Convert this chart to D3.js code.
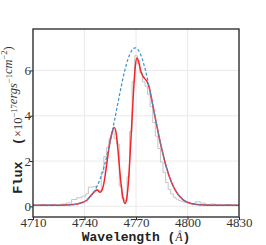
<!DOCTYPE html>
<html><head><meta charset="utf-8">
<script src="https://cdn.jsdelivr.net/npm/d3@7/dist/d3.min.js"></script>
<style>body{margin:0;background:#fff} svg{display:block}</style>
</head><body><div id="chart"></div>
<script>
// intrinsic emission (blue dashed)
const blueWave = [4710, 4725, 4733.5, 4737.5, 4741.5, 4743.5, 4745.5, 4747.5, 4749.5, 4751.5, 4753.5, 4755.5, 4757.5, 4759.5, 4761.5, 4763.5, 4765.5, 4767.5, 4769.5,
  4771.5, 4773.5, 4775.5, 4777.5, 4779.5, 4781.5, 4783.5, 4785.5, 4787.5, 4789.5, 4791.5, 4793.5, 4795.5, 4797.5, 4801.5, 4805.5, 4813, 4830];
const blueFlux = [0.05, 0.05, 0.08, 0.14, 0.29, 0.43, 0.64, 0.92, 1.30, 1.78, 2.37, 3.05, 3.80, 4.58, 5.33, 6.01, 6.54, 6.88, 7.00,
  6.88, 6.54, 6.01, 5.33, 4.58, 3.80, 3.05, 2.37, 1.78, 1.30, 0.92, 0.64, 0.43, 0.29, 0.14, 0.08, 0.05, 0.05];

// absorbed model (red)
const redWave = [4710, 4725, 4733.5, 4737.5, 4741.5, 4744, 4746, 4747.5, 4749, 4750, 4751.5, 4753, 4754.5, 4756, 4757.3, 4758.5, 4759.5, 4760.5,
  4761.5, 4762.5, 4763.6, 4764.5, 4765.5, 4766.5, 4767.5, 4768.5, 4769.5, 4770.5, 4771.5, 4772.5, 4773.5, 4775, 4776.5, 4777.5,
  4779.5, 4781.5, 4783.5, 4785.5, 4787.5, 4789.5, 4791.5, 4793.5, 4795.5, 4797.5, 4801.5, 4805.5, 4813, 4830];
const redFlux = [0.05, 0.05, 0.08, 0.14, 0.28, 0.5, 0.66, 0.72, 0.62, 0.68, 1.1, 1.9, 2.7, 3.25, 3.48, 3.2, 2.5, 1.6,
  0.85, 0.35, 0.13, 0.3, 1.0, 2.2, 3.6, 5.0, 6.1, 6.55, 6.4, 6.05, 5.82, 5.65, 5.5, 5.3,
  4.58, 3.8, 3.05, 2.37, 1.78, 1.3, 0.92, 0.64, 0.43, 0.29, 0.14, 0.08, 0.05, 0.05];

// observed spectrum (gray steps)
const obsWave = [4710, 4713, 4716, 4719, 4722, 4725, 4728, 4731, 4734, 4737, 4740, 4741.5, 4743, 4744.5, 4746, 4747.5, 4749, 4750.5,
  4752, 4753.5, 4755, 4756.5, 4758, 4759.5, 4761, 4762.5, 4764, 4765.5, 4767, 4768.5, 4770, 4771.5, 4773, 4774.5, 4776, 4777.5,
  4779, 4780.5, 4782, 4783.5, 4785, 4786.5, 4788, 4789.5, 4791, 4792.5, 4794, 4795.5, 4797, 4798.5, 4800, 4803, 4806, 4809,
  4812, 4815, 4818, 4821, 4824, 4827, 4830];
const obsFlux = [0.06, 0.04, 0.08, 0.05, 0.07, 0.04, 0.10, 0.15, 0.30, 0.38, 0.45, 0.55, 0.85, 0.85, 0.88, 0.72, 0.7, 1.5,
  2.2, 2.6, 3.0, 3.3, 3.0, 2.75, 0.9, 0.35, 0.25, 1.3, 3.3, 5.5, 6.65, 6.3, 5.9, 5.5, 5.3, 4.95,
  4.4, 3.7, 3.1, 2.55, 1.95, 1.5, 1.05, 0.75, 0.55, 0.4, 0.32, 0.25, 0.22, 0.18, 0.16, 0.12, 0.2, 0.14,
  0.08, 0.1, 0.06, 0.05, 0.08, 0.05, 0.05];

const xTicks = [4710, 4740, 4770, 4800, 4830];
const yTicks = [0, 2, 4, 6];

const width = 266, height = 245;
const margin = {top: 29, right: 27, bottom: 28, left: 33};
const w = width - margin.left - margin.right;
const h = height - margin.top - margin.bottom;

const svg = d3.select('#chart').append('svg')
  .attr('width', width)
  .attr('height', height);

const g = svg.append('g')
  .attr('transform', 'translate(' + margin.left + ',' + margin.top + ')');

const x = d3.scaleLinear().domain([4710, 4830]).range([0, w]);
const y = d3.scaleLinear().domain([-0.47, 7.83]).range([h, 0]);

// grid
g.append('g')
  .selectAll('line')
  .data(xTicks)
  .enter().append('line')
  .attr('x1', d => x(d)).attr('x2', d => x(d))
  .attr('y1', 0).attr('y2', h)
  .attr('stroke', '#e4e4e4').attr('stroke-width', 0.8);

g.append('g')
  .selectAll('line')
  .data(yTicks)
  .enter().append('line')
  .attr('x1', 0).attr('x2', w)
  .attr('y1', d => y(d)).attr('y2', d => y(d))
  .attr('stroke', '#e4e4e4').attr('stroke-width', 0.8);

function series (wave, flux) {
  return wave.map((v, i) => [v, flux[i]]);
}

svg.append('defs').append('clipPath').attr('id', 'clip')
  .append('rect').attr('width', w).attr('height', h);

const plot = g.append('g').attr('clip-path', 'url(#clip)');

plot.append('path')
  .datum(series(obsWave, obsFlux))
  .attr('fill', 'none')
  .attr('stroke', '#c4c4c4')
  .attr('stroke-width', 1)
  .attr('d', d3.line().x(d => x(d[0])).y(d => y(d[1])).curve(d3.curveStep));

plot.append('path')
  .datum(series(redWave, redFlux))
  .attr('fill', 'none')
  .attr('stroke', '#f5242a')
  .attr('stroke-width', 1.5)
  .attr('d', d3.line().x(d => x(d[0])).y(d => y(d[1])).curve(d3.curveMonotoneX));

plot.append('path')
  .datum(series(blueWave, blueFlux))
  .attr('fill', 'none')
  .attr('stroke', '#3f8fcc')
  .attr('stroke-width', 1.2)
  .attr('stroke-dasharray', '3,2')
  .attr('d', d3.line().x(d => x(d[0])).y(d => y(d[1])).curve(d3.curveMonotoneX));

// axes
const xAxis = g.append('g')
  .attr('transform', 'translate(0,' + h + ')')
  .call(d3.axisBottom(x).tickValues(xTicks).tickSize(3).tickSizeOuter(0).tickFormat(d3.format('d')));
const yAxis = g.append('g')
  .call(d3.axisLeft(y).tickValues(yTicks).tickSize(3).tickSizeOuter(0));

[xAxis, yAxis].forEach(a => {
  a.select('.domain').remove();
  a.selectAll('.tick line').attr('stroke', '#222').attr('stroke-width', 1);
  a.selectAll('.tick text')
    .attr('fill', '#333')
    .style('font-family', '"Liberation Serif", "DejaVu Serif", serif')
    .style('font-size', '13px');
});
xAxis.selectAll('.tick text').attr('y', 0.5);
yAxis.selectAll('.tick text').attr('x', -2);

g.append('rect')
  .attr('width', w).attr('height', h)
  .attr('fill', 'none')
  .attr('stroke', '#333')
  .attr('stroke-width', 1.4);

// x label
const xl = svg.append('text')
  .attr('x', margin.left + w / 2)
  .attr('y', 240.5)
  .attr('text-anchor', 'middle')
  .attr('fill', '#222')
  .style('font-family', '"Liberation Mono", "DejaVu Sans Mono", monospace')
  .style('font-weight', 'bold')
  .style('font-size', '13px');
xl.append('tspan').text('Wavelength (');
xl.append('tspan').text('Å')
  .style('font-family', '"Liberation Serif", serif')
  .style('font-style', 'italic')
  .style('font-weight', 'normal')
  .style('font-size', '11.5px');
xl.append('tspan').text(')');

// y label
const yl = svg.append('text')
  .attr('transform', 'translate(22,' + (margin.top + h / 2 - 3) + ') rotate(-90)')
  .attr('text-anchor', 'middle')
  .attr('fill', '#333')
  .style('font-family', '"Liberation Serif", serif')
  .style('font-size', '12.5px');
const mono = s => yl.append('tspan').text(s)
  .attr('fill', '#222')
  .style('font-family', '"Liberation Mono", monospace')
  .style('font-weight', 'bold')
  .style('font-size', '13.5px');
const it = s => yl.append('tspan').text(s).style('font-style', 'italic');
const sup = s => yl.append('tspan').text(s).attr('dy', -5).style('font-size', '8.5px');
const down = s => yl.append('tspan').text(s).attr('dy', 5);

mono('Flux\u00a0\u00a0(');
yl.append('tspan').text('×10');
sup('−17');
down('');
it('ergs');
sup('−1');
down('');
it('cm');
sup('−2');
down(')');
</script>
</body></html>
